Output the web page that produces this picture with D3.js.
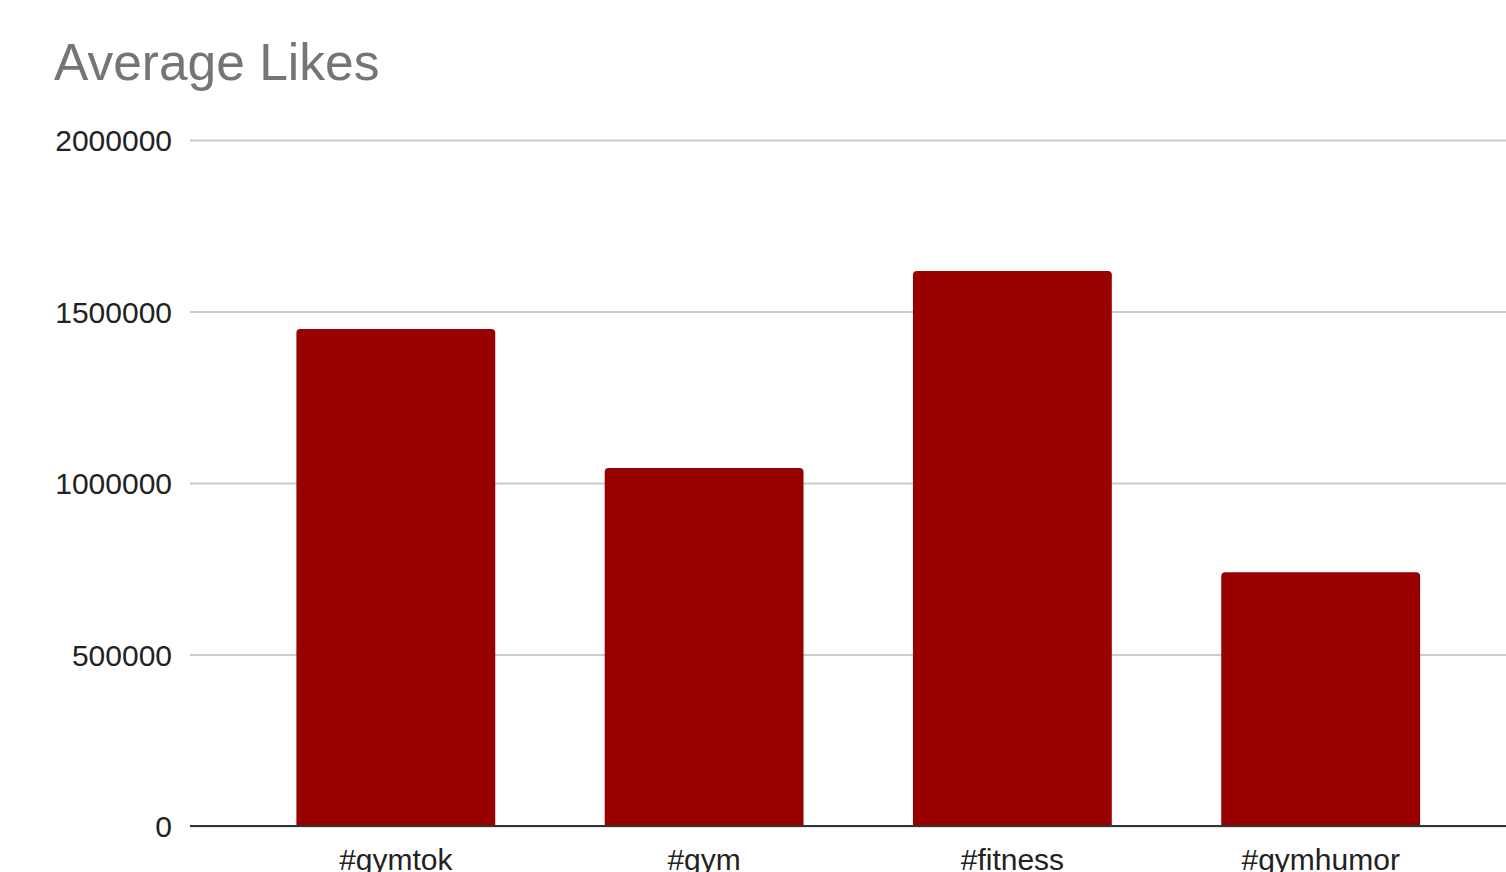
<!DOCTYPE html>
<html><head><meta charset="utf-8">
<script src="https://cdn.jsdelivr.net/npm/d3@7"></script>
<style>html,body{margin:0;padding:0;background:#fff;overflow:hidden}</style>
</head><body>
<svg id="c" width="1506" height="872"></svg>
<script>
const categories = ["#gymtok", "#gym", "#fitness", "#gymhumor"];
const values = [1449000, 1044000, 1618000, 740000];
const yTicks = [0, 500000, 1000000, 1500000, 2000000];
const title = "Average Likes";

const svg = d3.select("#c");
const font = "'Liberation Sans', Arial, sans-serif";
const y = d3.scaleLinear().domain([0, 2000000]).range([826, 140]);
const x = d3.scaleBand().domain(categories).range([188.5, 1528]).paddingInner(0.355).paddingOuter(0.35);

svg.append("text").attr("x", 54).attr("y", 80).text(title)
  .attr("font-family", font).attr("font-size", 51.5).attr("fill", "#757575");

const ya = svg.append("g").attr("transform", "translate(190,0)")
  .call(d3.axisLeft(y).tickValues(yTicks).tickSize(-1340).tickPadding(18).tickFormat(d => String(d)));
ya.select(".domain").remove();
ya.selectAll(".tick line").attr("stroke", "#cccccc").attr("stroke-width", 2);
ya.selectAll(".tick text").attr("font-family", font).attr("font-size", 30).attr("fill", "#222").attr("dy", "0.35em");

const r = 4;
svg.append("g").selectAll("path").data(categories).join("path")
  .attr("fill", "#990000")
  .attr("d", (c, i) => {
    const x0 = x(c), w = x.bandwidth(), y0 = y(values[i]), yb = y(0);
    return `M${x0},${yb}V${y0 + r}Q${x0},${y0} ${x0 + r},${y0}H${x0 + w - r}Q${x0 + w},${y0} ${x0 + w},${y0 + r}V${yb}Z`;
  });

const xa = svg.append("g").attr("transform", "translate(0,826)")
  .call(d3.axisBottom(x).tickSize(0).tickPadding(23));
xa.select(".domain").attr("d", "M190,0H1530").attr("stroke", "#333").attr("stroke-width", 2);
xa.selectAll(".tick text").attr("font-family", font).attr("font-size", 30).attr("fill", "#222");
</script>
</body></html>
